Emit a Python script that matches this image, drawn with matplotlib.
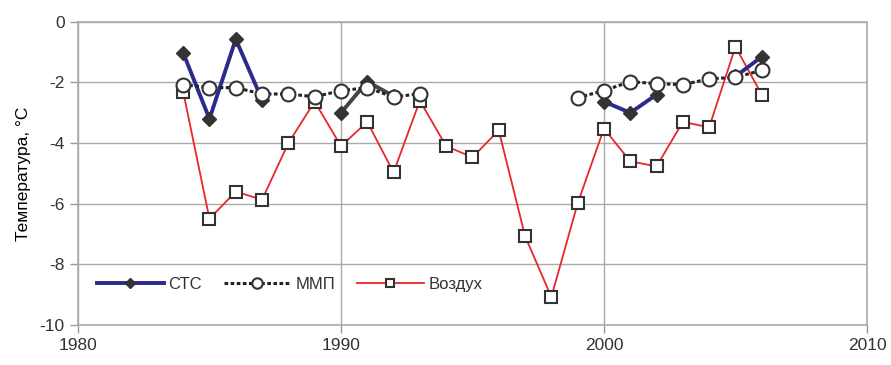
import numpy as np
import matplotlib
matplotlib.use("Agg")
import matplotlib.pyplot as plt

plt.rcParams.update({
    "font.family": ["Liberation Sans", "DejaVu Sans"],
    "font.size": 12,
    "axes.unicode_minus": False,
    "text.color": "#333333",
    "xtick.color": "#999999",
    "ytick.color": "#999999",
    "xtick.labelcolor": "#333333",
    "ytick.labelcolor": "#333333",
})

# СТС: two observation periods (NaN = no data)
ctc_years = [1984, 1985, 1986, 1987, 1988, 1989, 1990, 1991, 1992]
ctc_vals = [-1.02, -3.2, -0.57, -2.57, np.nan, np.nan, -3.0, -1.97, -2.45]
ctc2_years = [2000, 2001, 2002, 2003, 2004, 2005, 2006]
ctc2_vals = [-2.63, -3.0, -2.4, np.nan, np.nan, -1.8, -1.15]

# ММП
mmp_years = [1984, 1985, 1986, 1987, 1988, 1989, 1990, 1991, 1992, 1993,
             1994, 1995, 1996, 1997, 1998,
             1999, 2000, 2001, 2002, 2003, 2004, 2005, 2006]
mmp_vals = [-2.07, -2.17, -2.17, -2.38, -2.38, -2.47, -2.27, -2.17, -2.48, -2.37,
            np.nan, np.nan, np.nan, np.nan, np.nan,
            -2.5, -2.27, -1.97, -2.04, -2.07, -1.88, -1.83, -1.6]

# Воздух
air_years = list(range(1984, 2007))
air_vals = [-2.3, -6.5, -5.6, -5.87, -4.0, -2.63, -4.1, -3.3, -4.97, -2.6,
            -4.1, -4.47, -3.58, -7.07, -9.08, -5.99, -3.52, -4.6, -4.77,
            -3.3, -3.48, -0.82, -2.4]

fig = plt.figure(figsize=(8.91, 3.65), dpi=100)
ax = fig.add_axes([0.0875, 0.11, 0.8855, 0.83])

ax.plot(air_years, air_vals, color="#e8262b", lw=1.3, marker="s", ms=8,
        mfc="white", mec="#333333", mew=1.5, label="Воздух", zorder=3)

# СТС, 1984-1987 and 2000s in navy, 1990-1992 in dark grey
ax.plot(ctc_years[:6], ctc_vals[:6], color="#2b2b8c", lw=2.8, marker="D", ms=7,
        mfc="#333333", mec="#333333", label="СТС", zorder=4)
ax.plot(ctc_years[6:], ctc_vals[6:], color="#444444", lw=2.8, marker="D", ms=7,
        mfc="#333333", mec="#333333", zorder=4)
ax.plot(ctc2_years, ctc2_vals, color="#2b2b8c", lw=2.8, marker="D", ms=7,
        mfc="#333333", mec="#333333", zorder=4)

ax.plot(mmp_years, mmp_vals, color="#222222", lw=2.2, ls=(0, (1.2, 0.8)),
        marker="o", ms=10, mfc="white", mec="#333333", mew=1.5,
        label="ММП", zorder=5)

ax.set_xlim(1980, 2010)
ax.set_ylim(-10, 0)
ax.set_xticks([1980, 1990, 2000, 2010])
ax.set_yticks([0, -2, -4, -6, -8, -10])
ax.tick_params(direction="out", length=6, width=1, labelsize=12.5)
ax.grid(True, color="#aaaaaa", lw=1)
ax.set_axisbelow(True)
for sp in ax.spines.values():
    sp.set_color("#aaaaaa")
    sp.set_linewidth(1.2)

ax.set_ylabel("Температура, °C", fontsize=12.5, labelpad=6)

handles, labels = ax.get_legend_handles_labels()
order = [labels.index(n) for n in ["СТС", "ММП", "Воздух"]]
ax.legend([handles[i] for i in order], [labels[i] for i in order],
          loc="lower left", bbox_to_anchor=(0.005, 0.06), ncol=3, frameon=False,
          fontsize=12, handlelength=4, markerscale=0.75, columnspacing=1.3,
          handletextpad=0.3)

fig.savefig("out.png", dpi=100)
